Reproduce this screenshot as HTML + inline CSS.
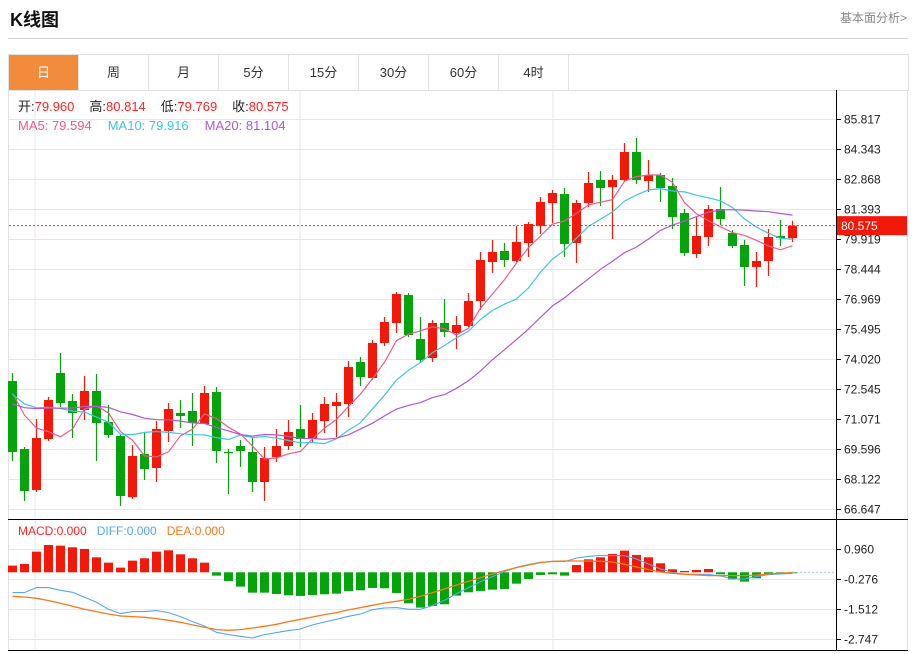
<!DOCTYPE html>
<html><head><meta charset="utf-8"><style>
body{margin:0;width:919px;height:654px;background:#fff;font-family:"Liberation Sans","Noto Sans CJK SC",sans-serif;position:relative;overflow:hidden}
.title{position:absolute;left:10px;top:6px;font-size:18px;font-weight:bold;color:#111}
.link{position:absolute;left:840px;top:9px;font-size:12px;color:#888}
.hr{position:absolute;left:8px;top:38px;width:900px;height:1px;background:#d4d4d4}
.tabs{position:absolute;left:8px;top:54px;width:899px;height:35px;border:1px solid #e2e2e2}
.tab{position:absolute;top:0;width:69px;height:35px;line-height:35px;text-align:center;font-size:13px;color:#333;border-right:1px solid #e2e2e2}
.tab.on{background:#f28c3d;color:#fff}
svg{position:absolute;left:0;top:0}
</style></head><body>
<div class="title">K线图</div>
<div class="link">基本面分析&gt;</div>
<div class="hr"></div>
<div class="tabs">
<div class="tab on" style="left:0">日</div>
<div class="tab" style="left:70px">周</div>
<div class="tab" style="left:140px">月</div>
<div class="tab" style="left:210px">5分</div>
<div class="tab" style="left:280px">15分</div>
<div class="tab" style="left:350px">30分</div>
<div class="tab" style="left:420px">60分</div>
<div class="tab" style="left:490px">4时</div>
</div>
<svg id="c" width="919" height="654"></svg>
<script>
const priorCloses=[71.2,71.0,71.5,71.8,71.3,71.0,70.8,71.2,71.6,71.9,72.3,72.0,71.8,72.4,72.6,73.0,73.3,72.9,73.1];
const opens=[72.939,69.596,67.581,70.088,73.332,71.956,71.513,72.447,70.923,70.235,67.237,69.351,68.662,70.481,71.366,71.464,70.825,72.398,69.449,69.744,69.449,67.974,69.203,69.744,70.579,70.088,70.973,71.710,71.808,73.873,73.086,74.807,75.790,77.166,75.003,74.069,75.790,75.298,75.642,76.871,78.788,79.329,78.837,79.722,80.557,81.688,82.130,79.722,81.688,82.818,82.474,82.818,84.195,82.769,83.064,82.524,81.196,79.181,80.017,81.393,80.213,79.624,78.542,78.837,80.066,79.960];
const highs=[73.332,69.695,71.071,72.152,74.315,72.300,73.184,73.283,71.759,70.300,69.793,70.432,70.973,71.857,72.005,72.349,72.693,72.644,69.596,70.039,70.137,69.695,70.579,71.022,71.759,71.366,72.152,72.349,73.922,74.118,74.954,76.084,77.313,77.264,76.084,75.937,76.969,76.134,77.264,79.279,79.869,79.722,80.557,80.750,81.983,82.327,82.425,81.835,83.212,83.261,83.064,84.637,84.883,83.802,83.163,82.917,81.393,81.000,81.590,82.474,80.361,79.869,79.279,80.410,80.852,80.814];
const lows=[69.006,67.040,67.483,69.990,71.661,70.137,71.022,69.006,70.137,66.795,67.139,68.073,67.974,69.940,70.629,69.744,70.825,68.908,67.384,68.712,67.483,67.040,68.957,69.547,69.695,69.940,70.383,70.186,71.169,72.693,72.988,74.659,75.298,75.101,73.873,73.873,75.101,74.512,75.593,76.429,78.247,78.542,78.788,79.034,80.164,80.705,79.034,78.739,81.491,81.540,79.918,82.720,82.622,82.229,81.737,80.410,79.083,78.985,79.574,80.607,79.476,77.608,77.559,78.100,79.574,79.769];
const closes=[69.449,67.532,70.137,72.005,71.857,71.366,72.447,70.874,70.284,67.286,69.252,68.613,70.579,71.562,71.218,70.874,72.349,69.498,69.400,69.498,67.974,69.154,69.744,70.432,70.088,71.022,71.808,71.906,73.627,73.135,74.807,75.839,77.215,75.200,73.971,75.790,75.347,75.691,76.871,78.886,79.279,78.886,79.771,80.656,81.737,82.179,79.673,81.688,82.671,82.425,82.818,84.195,82.818,83.064,82.425,81.000,79.230,80.066,81.393,80.901,79.574,78.542,78.837,80.017,79.968,80.575];
const priceTicks=["85.817","84.343","82.868","81.393","79.919","78.444","76.969","75.495","74.020","72.545","71.071","69.596","68.122","66.647"];
const macdHist=[0.275,0.343,0.851,1.126,1.098,1.030,0.961,0.618,0.398,0.192,0.481,0.577,0.851,0.906,0.741,0.577,0.398,-0.137,-0.357,-0.590,-0.838,-0.838,-0.892,-0.947,-0.975,-0.934,-0.906,-0.879,-0.769,-0.741,-0.645,-0.659,-0.851,-1.277,-1.455,-1.387,-1.318,-0.961,-0.824,-0.769,-0.714,-0.687,-0.467,-0.275,-0.110,-0.082,-0.137,0.302,0.535,0.618,0.755,0.892,0.714,0.618,0.371,0.124,0.055,0.096,0.137,-0.082,-0.288,-0.384,-0.247,-0.110,-0.055,-0.014];
const diffLine=[-0.838,-0.838,-0.632,-0.632,-0.741,-0.824,-1.030,-1.236,-1.524,-1.703,-1.620,-1.620,-1.579,-1.661,-1.826,-2.032,-2.211,-2.471,-2.568,-2.636,-2.705,-2.568,-2.485,-2.403,-2.334,-2.169,-2.046,-1.936,-1.812,-1.716,-1.538,-1.469,-1.455,-1.524,-1.524,-1.373,-1.153,-0.879,-0.632,-0.384,-0.178,0.027,0.206,0.316,0.412,0.439,0.439,0.590,0.659,0.687,0.687,0.687,0.549,0.343,0.137,-0.014,-0.069,-0.082,-0.082,-0.151,-0.275,-0.275,-0.178,-0.096,-0.069,-0.041];
const deaLine=[-0.989,-1.016,-1.071,-1.167,-1.277,-1.400,-1.524,-1.620,-1.716,-1.799,-1.826,-1.854,-1.908,-1.977,-2.060,-2.169,-2.265,-2.362,-2.389,-2.362,-2.293,-2.224,-2.142,-2.032,-1.936,-1.840,-1.744,-1.661,-1.551,-1.455,-1.359,-1.263,-1.195,-1.112,-0.989,-0.838,-0.687,-0.522,-0.371,-0.220,-0.069,0.069,0.192,0.302,0.398,0.453,0.467,0.467,0.467,0.453,0.426,0.330,0.220,0.110,0.014,-0.041,-0.082,-0.110,-0.137,-0.137,-0.137,-0.137,-0.110,-0.069,-0.041,-0.014];
const macdTicks=["0.960","-0.276","-1.512","-2.747"];

const NS="http://www.w3.org/2000/svg";
const svg=document.getElementById('c');
const RED="#f2190b",GREEN="#05a30c";
function yP(v){return 119+(85.817-v)/1.4746*30;}
function yM(v){return 572.3-v/1.236*30;}
function xC(i){return 12+12*i;}
function mk(tag,attrs,parent){const e=document.createElementNS(NS,tag);for(const k in attrs)e.setAttribute(k,attrs[k]);(parent||svg).appendChild(e);return e;}

const grid=mk('g',{});


[35,300,553].forEach(x=>mk('line',{x1:x,y1:90,x2:x,y2:650,stroke:"#e3e9ee","stroke-width":1},grid));
mk('line',{x1:8.5,y1:90,x2:8.5,y2:650,stroke:"#e2e2e2"},grid);
mk('line',{x1:907.5,y1:90,x2:907.5,y2:650,stroke:"#e2e2e2"},grid);
priceTicks.forEach(t=>{const y=Math.round(yP(+t))+0.5;mk('line',{x1:9,y1:y,x2:836,y2:y,stroke:"#e3e9ee"},grid);});
macdTicks.forEach(t=>{const y=Math.round(yM(+t))+0.5;mk('line',{x1:9,y1:y,x2:836,y2:y,stroke:"#e3e9ee"},grid);});

mk('line',{x1:836.5,y1:90,x2:836.5,y2:651,stroke:"#000"});
mk('line',{x1:8,y1:519.5,x2:908,y2:519.5,stroke:"#000"});
mk('line',{x1:8,y1:650.5,x2:908,y2:650.5,stroke:"#000"});
const ax=mk('g',{"font-size":"12",fill:"#222","font-family":"Liberation Sans, sans-serif"});


priceTicks.forEach(t=>{const y=Math.round(yP(+t))+0.5;mk('line',{x1:836,y1:y,x2:841,y2:y,stroke:"#000"},ax);const tx=mk('text',{x:844,y:y+4},ax);tx.textContent=t;});
const ax2=mk('g',{"font-size":"12",fill:"#222","font-family":"Liberation Sans, sans-serif"});


macdTicks.forEach(t=>{const y=Math.round(yM(+t))+0.5;mk('line',{x1:836,y1:y,x2:841,y2:y,stroke:"#000"},ax2);const tx=mk('text',{x:844,y:y+4},ax2);tx.textContent=t;});

const cg=mk('g',{});


closes.forEach((c,i)=>{
  const o=opens[i],up=c>=o,col=up?RED:GREEN,x=xC(i);
  const g=mk('g',{},cg);
  
  
  mk('line',{x1:x+0.5,y1:yP(highs[i]),x2:x+0.5,y2:yP(lows[i]),stroke:col,"stroke-width":1.2},g);
  const t=yP(Math.max(o,c)),b=yP(Math.min(o,c));
  mk('rect',{x:x-4,y:t,width:9,height:Math.max(1.2,b-t),fill:col},g);
});

const allC=priorCloses.concat(closes),P=priorCloses.length;
function ma(n){return closes.map((_,i)=>{const j=i+P;const s=Math.max(0,j-n+1);let sum=0;for(let k=s;k<=j;k++)sum+=allC[k];return sum/(j-s+1);});}
[[5,"#ee5b8d","ma5-line"],[10,"#3fc7df","ma10-line"],[20,"#b358cf","ma20-line"]].forEach(([n,col,name])=>{
  const m=ma(n);
  const p=mk('polyline',{points:m.map((v,i)=>xC(i)+0.5+","+yP(v).toFixed(1)).join(" "),fill:"none",stroke:col,"stroke-width":1.2});
  
  
});

const lp=closes[closes.length-1],ly=yP(lp);
const ll=mk('line',{x1:9,y1:ly,x2:836,y2:ly,stroke:"#e33","stroke-dasharray":"2,2"});


const lb=mk('rect',{x:837,y:ly-9.5,width:70,height:19,fill:"#f2190b"});


const lt=mk('text',{x:841,y:ly+4.5,"font-size":"12",fill:"#fff","font-family":"Liberation Sans, sans-serif"});
lt.textContent=lp.toFixed(3);

const mg=mk('g',{});


const z=yM(0);
macdHist.forEach((v,i)=>{
  const y=yM(v);
  const r=mk('rect',{x:xC(i)-4,y:Math.min(y,z),width:9,height:Math.max(1,Math.abs(y-z)),fill:v>=0?RED:GREEN},mg);
  
  
});
mk('line',{x1:xC(macdHist.length-1),y1:z,x2:836,y2:z,stroke:"#9cc8ea","stroke-dasharray":"2,2"});
const dl=mk('polyline',{points:diffLine.map((v,i)=>xC(i)+0.5+","+yM(v).toFixed(1)).join(" "),fill:"none",stroke:"#55a8ee","stroke-width":1.1});


const el=mk('polyline',{points:deaLine.map((v,i)=>xC(i)+0.5+","+yM(v).toFixed(1)).join(" "),fill:"none",stroke:"#f47a1f","stroke-width":1.3});


</script>
<svg width="919" height="654" style="pointer-events:none">
<g font-family="Liberation Sans, Noto Sans CJK SC, sans-serif" font-size="13">
<text x="18" y="111"><tspan fill="#222">开:</tspan><tspan fill="#f22">79.960</tspan><tspan fill="#222" dx="15">高:</tspan><tspan fill="#f22">80.814</tspan><tspan fill="#222" dx="15">低:</tspan><tspan fill="#f22">79.769</tspan><tspan fill="#222" dx="15">收:</tspan><tspan fill="#f22">80.575</tspan></text>
<text x="18" y="130"><tspan fill="#ee5b8d">MA5: 79.594</tspan><tspan fill="#3fc7df" dx="16">MA10: 79.916</tspan><tspan fill="#b358cf" dx="16">MA20: 81.104</tspan></text>
<text x="18" y="535" font-size="12"><tspan fill="#f22">MACD:0.000</tspan><tspan fill="#55a8ee" dx="10">DIFF:0.000</tspan><tspan fill="#f47a1f" dx="10">DEA:0.000</tspan></text>
</g></svg>
</body></html>
